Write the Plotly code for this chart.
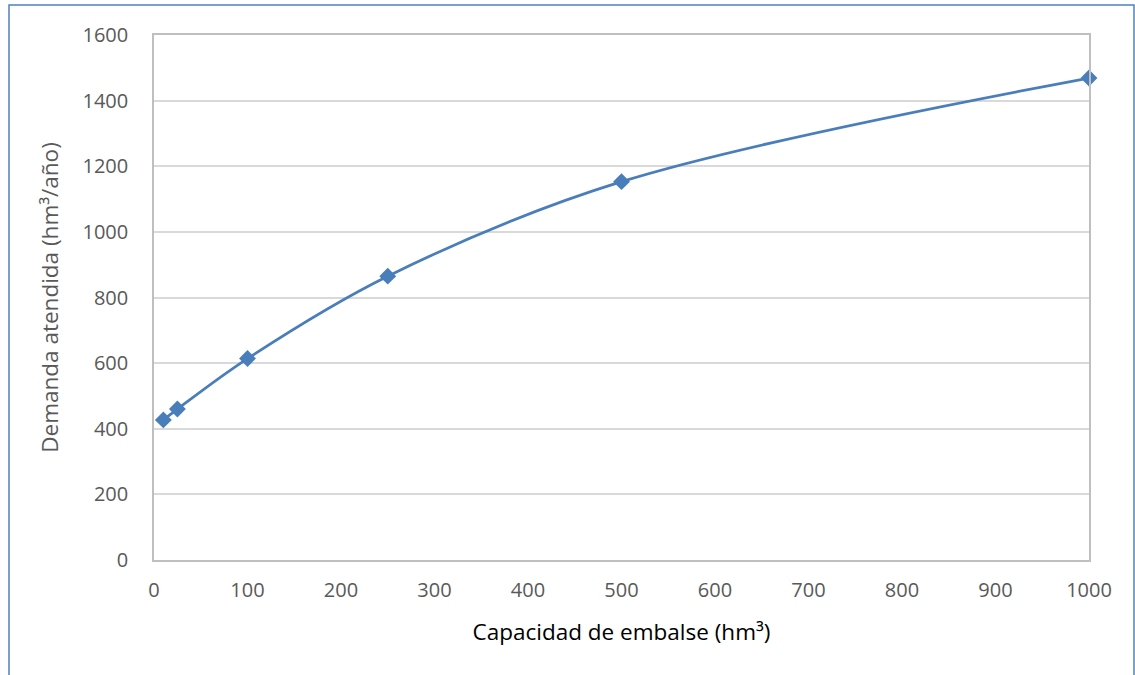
import plotly.graph_objects as go

capacidad = [10, 25, 100, 250, 500, 1000]
demanda = [427, 460, 614, 865, 1153, 1469]
x_ticks = list(range(0, 1001, 100))
y_ticks = list(range(0, 1601, 200))

W, H = 1135, 675
L, R, T, B = 154, 46, 35, 115
pw, ph = W - L - R, H - T - B

fig = go.Figure()
fig.add_trace(go.Scatter(
    x=capacidad, y=demanda, mode="lines+markers",
    line=dict(color="#4a7ebb", width=2.75, shape="spline", smoothing=1.0),
    marker=dict(symbol="diamond", size=13, color="#4a7ebb"),
    cliponaxis=False, showlegend=False,
))

font_family = "'Open Sans', Lato, sans-serif"
fig.update_layout(
    width=W, height=H,
    margin=dict(l=L, r=R, t=T, b=B, autoexpand=False),
    paper_bgcolor="white", plot_bgcolor="white",
    font=dict(family=font_family, color="#595959", size=20),
    xaxis=dict(
        range=[0, 1000], tickvals=x_ticks, showgrid=False,
        showline=True, linecolor="#bfbfbf", linewidth=1.5, mirror=True,
        ticks="", tickfont=dict(size=20, color="#595959"), ticklabelstandoff=11,
        title=dict(text="Capacidad de embalse (hm³)", font=dict(size=22.5, color="#000000"), standoff=22),
        zeroline=False,
    ),
    yaxis=dict(
        range=[0, 1600], tickvals=y_ticks, showgrid=True, gridcolor="#d9d9d9", gridwidth=1.5,
        showline=True, linecolor="#bfbfbf", linewidth=1.5, mirror=True,
        ticks="", tickfont=dict(size=20, color="#595959"), ticklabelstandoff=20,
        title=dict(text="Demanda atendida (hm³/año)", font=dict(size=22.5, color="#595959"), standoff=18),
        zeroline=False,
    ),
)

# outer chart frame
fig.add_shape(
    type="rect", xref="paper", yref="paper",
    x0=(9 - L) / pw, x1=(1134 - L) / pw,
    y0=(H - B - 690) / ph, y1=1 + (T - 5) / ph,
    line=dict(color="#4f81bd", width=1.5), fillcolor="rgba(0,0,0,0)", layer="below",
)

fig.write_html(
    "out.html",
    config={"displayModeBar": False},
    post_script="document.body.style.margin='0';document.body.style.overflow='hidden';",
)
